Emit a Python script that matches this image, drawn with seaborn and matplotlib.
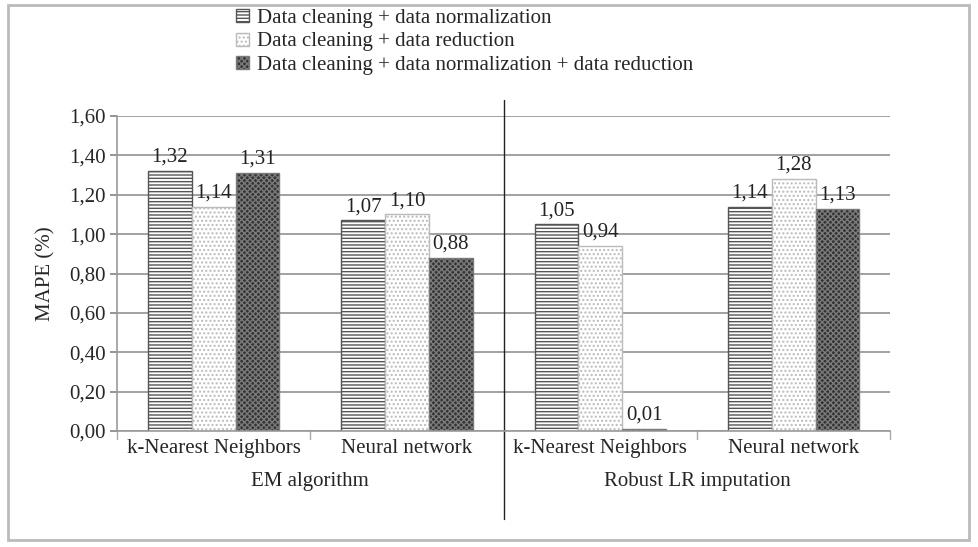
import numpy as np
import pandas as pd
import matplotlib.pyplot as plt
import seaborn as sns
from matplotlib.patches import Patch, Rectangle

# DATA
GROUPS = ["EM algorithm", "Robust LR imputation"]
METHODS = ["k-Nearest Neighbors", "Neural network"]
SERIES = [
    "Data cleaning + data normalization",
    "Data cleaning + data reduction",
    "Data cleaning + data normalization + data reduction",
]
VALUES = {
    SERIES[0]: [1.32, 1.07, 1.05, 1.14],
    SERIES[1]: [1.14, 1.10, 0.94, 1.28],
    SERIES[2]: [1.31, 0.88, 0.01, 1.13],
}
YTICKS = [0.0, 0.2, 0.4, 0.6, 0.8, 1.0, 1.2, 1.4, 1.6]

# styles per series: face, hatch/edge colour, hatch
STYLES = [
    ("#ffffff", "#555555", "-----"),
    ("#ffffff", "#bbbbbb", "...."),
    ("#333333", "#7a7a7a", "xxxxxx"),
]
FS = 15

sns.set_theme(style="white")
plt.rcParams["font.family"] = ["Liberation Serif", "DejaVu Serif"]
plt.rcParams["hatch.linewidth"] = 1.0

keys = [f"{g}|{m}" for g in GROUPS for m in METHODS]
rows = []
for s in SERIES:
    for k, v in zip(keys, VALUES[s]):
        rows.append({"key": k, "series": s, "value": v})
df = pd.DataFrame(rows)

fig = plt.figure(figsize=(9.79, 5.47), dpi=100)
ax = fig.add_axes([0.1195, 0.212, 0.790, 0.576])

sns.barplot(data=df, x="key", y="value", hue="series", order=keys,
            hue_order=SERIES, width=0.68, palette=["white"] * 3,
            legend=False, ax=ax, errorbar=None)

for cont, (face, edge, hatch) in zip(ax.containers, STYLES):
    for bar in cont:
        bar.set_facecolor(face)
        bar.set_edgecolor(edge)
        bar.set_hatch(hatch)
        bar.set_linewidth(1.0)
    ax.bar_label(cont, labels=[f"{b.get_height():.2f}".replace(".", ",") for b in cont],
                 padding=3, fontsize=FS, color="#222222")

ax.set_ylim(0, 1.6)
ax.set_xlim(-0.5, 3.5)
ax.set_yticks(YTICKS)
ax.set_yticklabels([f"{t:.2f}".replace(".", ",") for t in YTICKS], fontsize=FS)
ax.yaxis.grid(True, color="#9a9a9a", linewidth=1.3)
ax.set_axisbelow(True)
ax.set_xticks(range(4))
ax.set_xticklabels(METHODS * 2, fontsize=FS)
ax.tick_params(axis="x", length=0, pad=6)
ax.tick_params(axis="y", left=True, length=5, color="#888888", pad=3)
for x in [-0.5, 0.5, 1.5, 2.5, 3.5]:
    ax.plot([x, x], [0, -0.025], color="#aaaaaa", lw=1, clip_on=False,
            transform=ax.get_xaxis_transform())
ax.set_xlabel("")
ax.set_ylabel("MAPE (%)", fontsize=FS, labelpad=10)
for side in ["top", "right"]:
    ax.spines[side].set_visible(False)
for side in ["left", "bottom"]:
    ax.spines[side].set_color("#999999")
    ax.spines[side].set_linewidth(1.2)

# group labels and separator
for i, g in enumerate(GROUPS):
    ax.text(0.5 + 2 * i, -0.16, g, transform=ax.get_xaxis_transform(),
            ha="center", va="center", fontsize=FS)
ax.plot([1.5, 1.5], [1.05, -0.28], color="#222222", lw=1.0, clip_on=False,
        transform=ax.get_xaxis_transform())

handles = [Patch(facecolor=f, edgecolor=e, hatch=h, label=s)
           for (f, e, h), s in zip(STYLES, SERIES)]
fig.legend(handles=handles, loc="upper left", bbox_to_anchor=(0.222, 1.018),
           frameon=False, fontsize=FS, handlelength=0.6, handleheight=0.6,
           handletextpad=0.4, labelspacing=0.22)

fig.patches.append(Rectangle((0.008, 0.012), 0.982, 0.978, transform=fig.transFigure,
                             fill=False, edgecolor="#bbbbbb", linewidth=2))

fig.savefig("out.png", dpi=100)
